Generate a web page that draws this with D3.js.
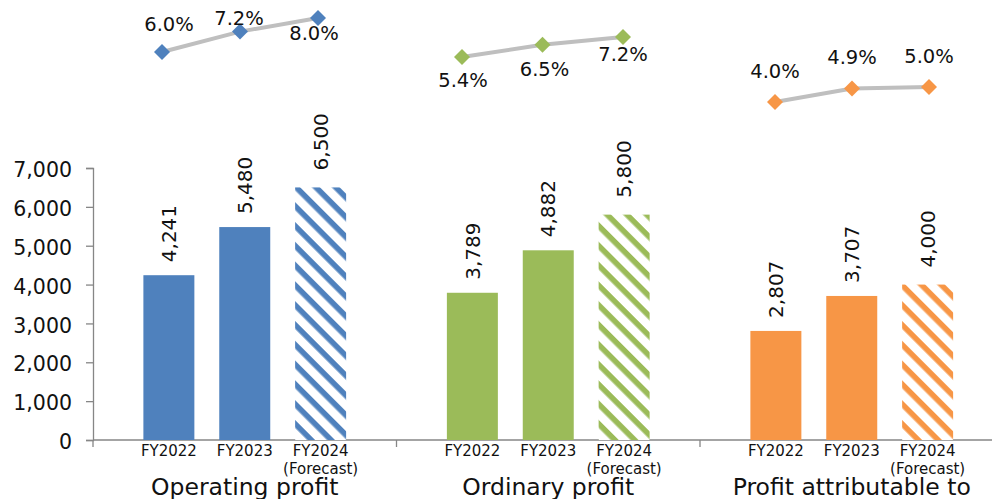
<!DOCTYPE html>
<html>
<head>
<meta charset="utf-8">
<script src="https://cdn.jsdelivr.net/npm/d3@7"></script>
<style>
  html, body { margin: 0; padding: 0; background: #fff; }
  svg { display: block; font-family: "DejaVu Sans", Verdana, sans-serif; }
</style>
</head>
<body>
<svg id="chart" width="992" height="499"></svg>
<script>
// ---- data ----
const groups = ["Operating profit", "Ordinary profit", "Profit attributable to"];
const years = ["FY2022", "FY2023", "FY2024"];
const yearNotes = ["", "", "(Forecast)"];
const operatingProfit = [4241, 5480, 6500];
const ordinaryProfit = [3789, 4882, 5800];
const profitAttributable = [2807, 3707, 4000];
const operatingMargin = [6.0, 7.2, 8.0];
const ordinaryMargin = [5.4, 6.5, 7.2];
const attributableMargin = [4.0, 4.9, 5.0];
const yTicks = [0, 1000, 2000, 3000, 4000, 5000, 6000, 7000];
const forecastFlags = [false, false, true];

// ---- layout / style ----
const colors = ["#4F81BD", "#9BBB59", "#F79646"];
const barSeries = [operatingProfit, ordinaryProfit, profitAttributable];
const marginSeries = [operatingMargin, ordinaryMargin, attributableMargin];
const axisX = 93, axisY0 = 440, axisYTop = 168, groupW = 303.5;
// each margin mini-chart has its own scale box
const lineBoxes = [
  { x: [162, 318], dom: [6.0, 8.0], y: [52, 18] },
  { x: [462, 623], dom: [5.4, 7.2], y: [57, 37] },
  { x: [775, 929], dom: [4.0, 5.0], y: [102, 87] }
];
// label offsets relative to markers [dx, dy(baseline)]
const lineLabelOffsets = [
  [[7, -21], [-1, -7], [-4, 22]],
  [[1, 30], [2, 31], [0, 24]],
  [[0, -24], [0, -25], [0, -24]]
];

const svg = d3.select("#chart");
const defs = svg.append("defs");
colors.forEach((c, i) => {
  const p = defs.append("pattern")
    .attr("id", "hatch" + i)
    .attr("patternUnits", "userSpaceOnUse")
    .attr("width", 14).attr("height", 14)
    .attr("patternTransform", "rotate(45)");
  p.append("rect").attr("width", 14).attr("height", 14).attr("fill", "#fff");
  p.append("rect").attr("width", 14).attr("height", 5.6).attr("fill", c);
});

const y = d3.scaleLinear().domain([0, 7000]).range([axisY0, axisYTop]);
const gx = d3.scaleBand().domain(groups).range([axisX, axisX + groupW * 3]).padding(0);
const ix = d3.scaleLinear().domain([-1, 3]).range([0, groupW]);
const step = ix(1) - ix(0);
const barW = step * 0.672;

// y axis
const yAxis = d3.axisLeft(y).tickValues(yTicks).tickFormat(d3.format(",")).tickSize(7).tickPadding(14);
const yg = svg.append("g").attr("transform", `translate(${axisX},0)`).call(yAxis);
yg.select(".domain").attr("stroke", "#868686").attr("stroke-width", 1.3);
yg.selectAll(".tick line").attr("stroke", "#868686").attr("stroke-width", 1.3);
yg.selectAll(".tick text").attr("font-size", 20.5).attr("fill", "#111")
  .attr("font-family", "DejaVu Sans, Verdana, sans-serif").attr("dy", "0.42em");

// x axis line and group ticks
const xg = svg.append("g");
xg.append("line").attr("x1", axisX).attr("x2", 992).attr("y1", axisY0).attr("y2", axisY0)
  .attr("stroke", "#868686").attr("stroke-width", 1.3);
groups.forEach(g => {
  xg.append("line").attr("x1", gx(g)).attr("x2", gx(g)).attr("y1", axisY0).attr("y2", axisY0 + 7)
    .attr("stroke", "#868686").attr("stroke-width", 1.3);
});

// bars
groups.forEach((g, gi) => {
  const gg = svg.append("g").attr("transform", `translate(${gx(g)},0)`);
  const vals = barSeries[gi];
  gg.selectAll("rect.bar").data(vals).join("rect")
    .attr("class", "bar")
    .attr("x", (d, i) => ix(i) - barW / 2)
    .attr("width", barW)
    .attr("y", d => y(d))
    .attr("height", d => axisY0 - y(d))
    .attr("fill", (d, i) => forecastFlags[i] ? `url(#hatch${gi})` : colors[gi]);
  gg.selectAll("text.val").data(vals).join("text")
    .attr("class", "val")
    .attr("transform", (d, i) => `translate(${ix(i)},${y(d) - (forecastFlags[i] ? 17 : 13)}) rotate(-90)`)
    .attr("dy", "0.36em")
    .attr("font-size", 20).attr("fill", "#111")
    .text(d => d3.format(",")(d));
  gg.selectAll("text.year").data(years).join("text")
    .attr("class", "year")
    .attr("x", (d, i) => ix(i)).attr("y", 456)
    .attr("text-anchor", "middle").attr("font-size", 15).attr("fill", "#111")
    .text(d => d);
  gg.selectAll("text.note").data(yearNotes).join("text")
    .attr("class", "note")
    .attr("x", (d, i) => ix(i)).attr("y", 474)
    .attr("text-anchor", "middle").attr("font-size", 15).attr("fill", "#111")
    .text(d => d);
  gg.append("text")
    .attr("x", ix(1)).attr("y", 495)
    .attr("text-anchor", "middle").attr("font-size", 23.5).attr("fill", "#111")
    .text(g);

  // margin mini line chart
  const box = lineBoxes[gi];
  const lx = d3.scalePoint().domain(years).range(box.x);
  const ly = d3.scaleLinear().domain(box.dom).range(box.y);
  const mvals = marginSeries[gi];
  const line = d3.line().x((d, i) => lx(years[i])).y(d => ly(d));
  svg.append("path").datum(mvals).attr("d", line)
    .attr("fill", "none").attr("stroke", "#BFBFBF").attr("stroke-width", 4);
  const sym = d3.symbol(d3.symbolSquare, 128);
  svg.selectAll(null).data(mvals).join("path")
    .attr("d", sym)
    .attr("transform", (d, i) => `translate(${lx(years[i])},${ly(d)}) rotate(45)`)
    .attr("fill", colors[gi]);
  svg.selectAll(null).data(mvals).join("text")
    .attr("x", (d, i) => lx(years[i]) + lineLabelOffsets[gi][i][0])
    .attr("y", (d, i) => ly(d) + lineLabelOffsets[gi][i][1])
    .attr("text-anchor", "middle").attr("font-size", 19.5).attr("fill", "#111")
    .text(d => d3.format(".1f")(d) + "%");
});
</script>
</body>
</html>
